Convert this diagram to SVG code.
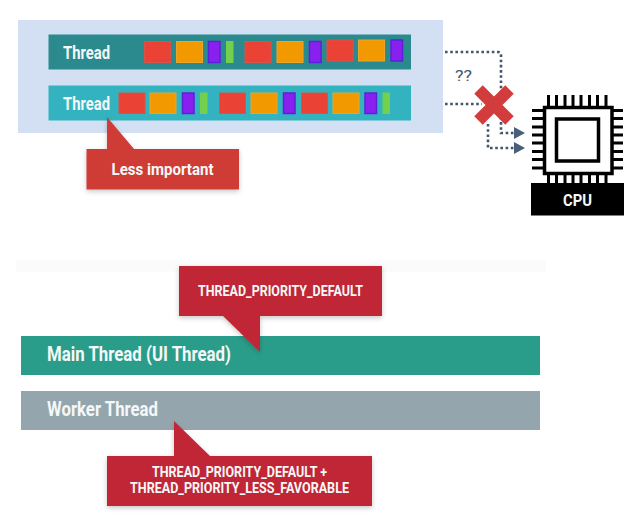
<svg xmlns="http://www.w3.org/2000/svg" width="644" height="520" viewBox="0 0 644 520">
<defs>
<filter id="sh" x="-10%" y="-20%" width="120%" height="150%"><feDropShadow dx="0" dy="2" stdDeviation="2.5" flood-color="#000" flood-opacity="0.22"/></filter>
<marker id="arr" markerUnits="userSpaceOnUse" markerWidth="11" markerHeight="12" refX="1" refY="6" orient="auto"><path d="M0 0L11 6L0 12Z" fill="#4a5f78"/></marker>
</defs>
<style>
text{font-family:Roboto,"Liberation Sans",sans-serif;font-weight:700;fill:#f4f8f8}
.r{fill:#ea4335;stroke:#d9534a;stroke-width:1}
.o{fill:#f29900;stroke:#e9a52c;stroke-width:1}
.p{fill:#8a20f0;stroke:#5a22d8;stroke-width:1.5}
.g{fill:#72d04c}
.c{fill:none;stroke:#44566c;stroke-width:2.6;stroke-dasharray:2.6 2.6}
.pin{stroke:#000;stroke-width:3}
</style>
<rect width="644" height="520" fill="#fff"/>
<rect x="16" y="260" width="530" height="12" fill="#fbfbfb"/>
<rect id="panel" x="18" y="20" width="425" height="113" fill="#d3e0f4"/>
<g id="thread-1">
<rect x="48.500" y="34.500" width="362.500" height="35" fill="#2a8a8e"/>
<text x="63" y="58.500" font-size="18" textLength="47" lengthAdjust="spacingAndGlyphs">Thread</text>
<rect class="r" x="144.500" y="41.500" width="26" height="21"/><rect class="o" x="176.500" y="41.500" width="26" height="21"/><rect class="p" x="208.500" y="41.500" width="11.500" height="21"/><rect class="g" x="226" y="41" width="7.500" height="22"/>
<rect class="r" x="245" y="41.500" width="26" height="21"/><rect class="o" x="277" y="41.500" width="26" height="21"/><rect class="p" x="309.500" y="41.500" width="11.500" height="21"/>
<rect class="r" x="327" y="40" width="26" height="21"/><rect class="o" x="358.500" y="40" width="26" height="21"/><rect class="p" x="391" y="40" width="11.500" height="21"/>
</g>
<g id="thread-2">
<rect x="48.500" y="85.500" width="362.500" height="35" fill="#33b2bf"/>
<text x="63" y="109.500" font-size="18" textLength="47" lengthAdjust="spacingAndGlyphs">Thread</text>
<rect class="r" x="119" y="93" width="26" height="20.500"/><rect class="o" x="150" y="93" width="26" height="20.500"/><rect class="p" x="182.500" y="93" width="11.500" height="20.500"/><rect class="g" x="200" y="92.500" width="7.500" height="21.500"/>
<rect class="r" x="219.500" y="93" width="26" height="20.500"/><rect class="o" x="251" y="93" width="26" height="20.500"/><rect class="p" x="283.500" y="93" width="11.500" height="20.500"/>
<rect class="r" x="301.500" y="93" width="26" height="20.500"/><rect class="o" x="333" y="93" width="26" height="20.500"/><rect class="p" x="365" y="93" width="11.500" height="20.500"/><rect class="g" x="382.500" y="92.500" width="7.500" height="21.500"/>
</g>
<g id="callout-less">
<path d="M86.500 149H107V117L134 149H239V189.500H86.500Z" fill="#cf3a36" filter="url(#sh)"/>
<text x="111.500" y="174.500" font-size="16.500" textLength="102" lengthAdjust="spacingAndGlyphs">Less important</text>
</g>
<g id="connectors">
<path class="c" d="M445 52H498Q501 52 501 55V133H515" marker-end="url(#arr)"/>
<path class="c" d="M445 104H482"/>
<path class="c" d="M488 124V148H515" marker-end="url(#arr)"/>
</g>
<text x="455" y="81" font-size="15" style="font-weight:400;fill:#44566c" textLength="17" lengthAdjust="spacingAndGlyphs">??</text>
<g id="cross"><path d="M478.500 89.500L509.500 120.500M509.500 89.500L478.500 120.500" stroke="#d33c3c" stroke-width="12" fill="none"/></g>
<g id="cpu">
<rect x="544.500" y="107.500" width="67.500" height="66" fill="#fff" stroke="#000" stroke-width="3.500"/>
<rect x="556.500" y="119" width="42" height="42" fill="#fff" stroke="#000" stroke-width="3.500"/>
<path class="pin" d="M548.500 95V106M556.500 95V106M565 95V106M573 95V106M581 95V106M589.500 95V106M597.500 95V106M606 95V106"/>
<path class="pin" d="M548.500 175V184M556.500 175V184M565 175V184M573 175V184M581 175V184M589.500 175V184M597.500 175V184M606 175V184"/>
<path class="pin" d="M532 110.500H543M532 118.500H543M532 127H543M532 135H543M532 143H543M532 151.500H543M532 159.500H543M532 168H543"/>
<path class="pin" d="M613 110.500H623M613 118.500H623M613 127H623M613 135H623M613 143H623M613 151.500H623M613 159.500H623M613 168H623"/>
<rect x="531" y="183" width="93" height="32.500" fill="#000"/>
<text x="563" y="205.500" font-size="17" textLength="29" lengthAdjust="spacingAndGlyphs">CPU</text>
</g>
<g id="main-thread">
<rect x="21" y="336" width="519" height="39" fill="#2a9d8a"/>
<text x="47" y="360.500" font-size="20" textLength="184" lengthAdjust="spacingAndGlyphs">Main Thread (UI Thread)</text>
</g>
<g id="worker-thread">
<rect x="21" y="391" width="519" height="39" fill="#95a5ae"/>
<text x="47" y="415.500" font-size="20" textLength="111" lengthAdjust="spacingAndGlyphs">Worker Thread</text>
</g>
<g id="callout-default">
<path d="M179 266H382V316H260V352L223 316H179Z" fill="#c02736" filter="url(#sh)"/>
<text x="198" y="296" font-size="14" textLength="165" lengthAdjust="spacingAndGlyphs">THREAD_PRIORITY_DEFAULT</text>
</g>
<g id="callout-worker">
<path d="M107 456H174V421L210 456H372V506H107Z" fill="#c02736" filter="url(#sh)"/>
<text x="152" y="477" font-size="14" textLength="175" lengthAdjust="spacingAndGlyphs">THREAD_PRIORITY_DEFAULT +</text>
<text x="130" y="493" font-size="14" textLength="219" lengthAdjust="spacingAndGlyphs">THREAD_PRIORITY_LESS_FAVORABLE</text>
</g>
</svg>
